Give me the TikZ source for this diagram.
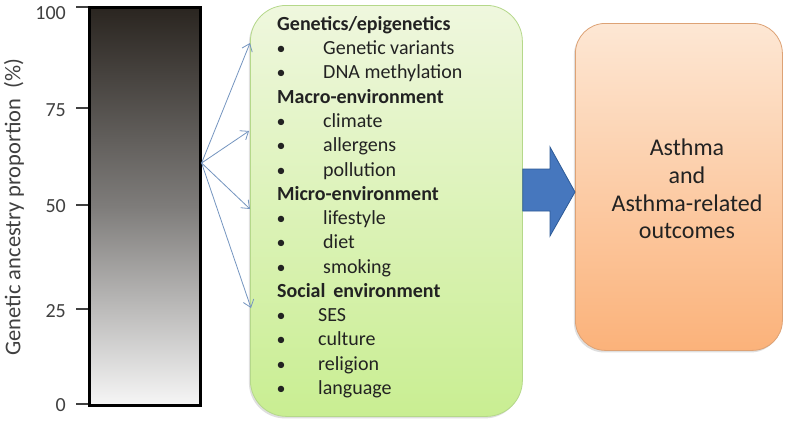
\documentclass[tikz,border=0pt]{standalone}
\usepackage{fontspec}
\setmainfont{Carlito}
\usetikzlibrary{arrows.meta,shadows}
\definecolor{barTop}{HTML}{2A2520}
\definecolor{barMid}{HTML}{7E7C7A}
\definecolor{barBot}{HTML}{F6F6F6}
\definecolor{grTop}{HTML}{EFF7DE}
\definecolor{grBot}{HTML}{C9EE92}
\definecolor{grLine}{HTML}{B5D88A}
\definecolor{orTop}{HTML}{FDE7D4}
\definecolor{orBot}{HTML}{FBB27A}
\definecolor{orLine}{HTML}{DDA275}
\definecolor{bigFill}{HTML}{4677BE}
\definecolor{bigLine}{HTML}{2D5A96}
\definecolor{thinArr}{HTML}{7595C0}
\definecolor{txt}{HTML}{222222}
\definecolor{axt}{HTML}{404040}
\tikzset{
  ticklab/.style={anchor=east,font=\fontsize{20}{24}\selectfont,text=axt,inner sep=0pt},
  tickline/.style={line width=1.3pt,draw=axt},
  fanarrow/.style={draw=thinArr,line width=0.8pt,-{Straight Barb[length=7pt,width=11pt]}},
  head/.style={anchor=mid west,font=\fontsize{20}{24}\selectfont\bfseries,text=txt,inner sep=0pt},
  item/.style={anchor=mid west,font=\fontsize{20}{24}\selectfont,text=txt,inner sep=0pt},
  bul/.style={anchor=mid,font=\fontsize{18}{24}\selectfont,text=txt,inner sep=0pt}
}
\begin{document}
\begin{tikzpicture}[x=1pt,y=-1pt]
\useasboundingbox[fill=white] (0,0) rectangle (787,423);
% gradient bar
\node[draw=black,line width=2.6pt,top color=barTop,bottom color=barBot,middle color=barMid,
      minimum width=111pt,minimum height=398pt,inner sep=0pt,anchor=north west] (bar) at (88,6) {};
% ticks
\foreach \v/\yy/\ly in {100/7/13,75/108/110,50/205/206,25/309/311,0/404/405}{
  \draw[tickline] (76,\yy) -- (88,\yy);
  \node[ticklab] (t\v) at (66,\ly) {\v};
}
\node[rotate=90,font=\fontsize{22.5}{26}\selectfont,text=axt,inner sep=0pt] (axlab) at (14,207) {Genetic ancestry proportion\ \ (\%)};
% green box
\node[draw=grLine,line width=0.8pt,rounded corners=36pt,top color=grTop,bottom color=grBot,
      drop shadow={shadow xshift=-1.5pt,shadow yshift=-2pt,opacity=0.25},
      minimum width=272pt,minimum height=411pt,inner sep=0pt,anchor=north west] (green) at (250,5) {};
% orange box
\node[draw=orLine,line width=0.8pt,rounded corners=30pt,top color=orTop,bottom color=orBot,
      drop shadow={shadow xshift=-1.5pt,shadow yshift=-2pt,opacity=0.25},
      minimum width=207pt,minimum height=327pt,inner sep=0pt,anchor=north west] (orange) at (575,23) {};
\node[align=center,font=\fontsize{24}{27.7}\selectfont,text=txt,inner sep=0pt] (otext) at (687,189)
  {Asthma\\and\\Asthma-related\\outcomes};
% fan arrows
\coordinate (src) at (bar.east |- 0,163);
\coordinate (a1) at (250,43);
\coordinate (a2) at (249,131);
\coordinate (a3) at (250,209);
\coordinate (a4) at (251,308);
\foreach \t in {a1,a2,a3,a4} \draw[fanarrow] (src) -- (\t);
% list
\newcommand{\lineY}[1]{28+24.27*#1}
\node[head] (h1) at (277,{\lineY{0}}) {Genetics/epigenetics};
\node[head] (h2) at (277,{\lineY{3}}) {Macro-environment};
\node[head] (h3) at (277,{\lineY{7}}) {Micro-environment};
\node[head] (h4) at (277,{\lineY{11}}) {Social\ \,environment};
\foreach \i/\x/\s in {1/323/Genetic variants,2/323/DNA methylation,4/323/climate,5/323/allergens,6/323/pollution,
  8/323/lifestyle,9/323/diet,10/323/smoking,12/318/SES,13/318/culture,14/318/religion,15/318/language}{
  \node[bul] (b\i) at (281,{\lineY{\i}}) {•};
  \node[item] (i\i) at (\x,{\lineY{\i}}) {\s};
}
% big arrow
\coordinate (ba) at (green.east |- 0,190);
\fill[bigFill,draw=bigLine,line width=0.8pt,line join=miter]
  (ba |- 0,169) -- (550,169) -- (550,147) -- (orange.west |- 0,192) -- (550,236) -- (550,211) -- (ba |- 0,211) -- cycle;
\end{tikzpicture}
\end{document}
